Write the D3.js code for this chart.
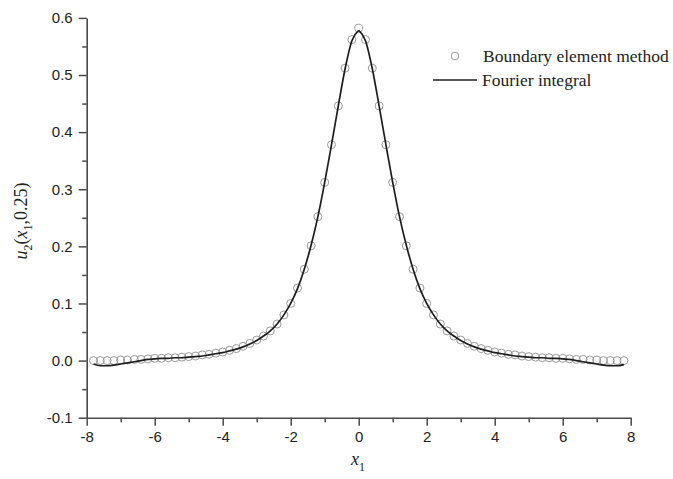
<!DOCTYPE html>
<html>
<head>
<meta charset="utf-8">
<script src="https://cdn.jsdelivr.net/npm/d3@7/dist/d3.min.js"></script>
<style>
  html, body { margin: 0; padding: 0; background: #fff; }
  svg { display: block; }
</style>
</head>
<body>
<svg id="chart" width="673" height="479"></svg>
<script>
// x1 positions of the samples (step 0.2 from -7.8 to 7.8)
const x1 = d3.range(-39, 40).map(i => i / 5);

// u2(x1, 0.25) from the boundary element method
const bemValues = [
  0.000, 0.000, 0.000, 0.000, 0.001, 0.001, 0.002, 0.002, 0.003, 0.004,
  0.004, 0.005, 0.005, 0.006, 0.007, 0.008, 0.010, 0.011, 0.013, 0.015,
  0.018, 0.021, 0.025, 0.030, 0.036, 0.043, 0.052, 0.064, 0.080, 0.100,
  0.127, 0.160, 0.201, 0.252, 0.312, 0.378, 0.446, 0.512, 0.562,
  0.582,
  0.562, 0.512, 0.446, 0.378, 0.312, 0.252, 0.201, 0.160, 0.127, 0.100,
  0.080, 0.064, 0.052, 0.043, 0.036, 0.030, 0.025, 0.021, 0.018, 0.015,
  0.013, 0.011, 0.010, 0.008, 0.007, 0.006, 0.005, 0.005, 0.004, 0.004,
  0.003, 0.002, 0.002, 0.001, 0.001, 0.000, 0.000, 0.000, 0.000
];

// u2(x1, 0.25) from the Fourier integral solution
const fourierValues = [
  -0.006, -0.009, -0.009, -0.008, -0.006, -0.004, -0.002, 0.000, 0.002, 0.003,
  0.004, 0.004, 0.005, 0.005, 0.006, 0.007, 0.008, 0.010, 0.012, 0.014,
  0.017, 0.020, 0.024, 0.029, 0.035, 0.043, 0.052, 0.064, 0.080, 0.100,
  0.126, 0.160, 0.202, 0.252, 0.312, 0.378, 0.446, 0.511, 0.560,
  0.578,
  0.560, 0.511, 0.446, 0.378, 0.312, 0.252, 0.202, 0.160, 0.126, 0.100,
  0.080, 0.064, 0.052, 0.043, 0.035, 0.029, 0.024, 0.020, 0.017, 0.014,
  0.012, 0.010, 0.008, 0.007, 0.006, 0.005, 0.005, 0.004, 0.004, 0.003,
  0.002, 0.000, -0.002, -0.004, -0.006, -0.008, -0.009, -0.009, -0.007
];

const xMajorTicks = [-8, -6, -4, -2, 0, 2, 4, 6, 8];
const xMinorTicks = [-7, -5, -3, -1, 1, 3, 5, 7];
const yMajorTicks = [-0.1, 0.0, 0.1, 0.2, 0.3, 0.4, 0.5, 0.6];
const yMinorTicks = [-0.05, 0.05, 0.15, 0.25, 0.35, 0.45, 0.55];

const legendLabels = ["Boundary element method", "Fourier integral"];

const svg = d3.select("#chart");
const plotLeft = 86.7, plotRight = 630.7, plotTop = 17.9, plotBottom = 417.7;

const x = d3.scaleLinear().domain([-8, 8]).range([plotLeft, plotRight]);
const y = d3.scaleLinear().domain([-0.1, 0.6]).range([plotBottom, plotTop]);

const axisColor = "#4a4a4a";
const tickFont = "'Liberation Sans', Arial, sans-serif";
const serif = "'Liberation Serif', 'Times New Roman', serif";
const hyphen = s => s.replace("\u2212", "-");

// minor ticks (no labels)
svg.append("g")
  .attr("transform", `translate(0,${plotBottom})`)
  .call(d3.axisBottom(x).tickValues(xMinorTicks).tickSize(4.5).tickFormat(""))
  .call(g => g.select(".domain").remove());
svg.append("g")
  .attr("transform", `translate(${plotLeft},0)`)
  .call(d3.axisLeft(y).tickValues(yMinorTicks).tickSize(4.5).tickFormat(""))
  .call(g => g.select(".domain").remove());

// major axes
svg.append("g")
  .attr("transform", `translate(0,${plotBottom})`)
  .call(d3.axisBottom(x).tickValues(xMajorTicks).tickSize(8).tickSizeOuter(0)
    .tickPadding(6).tickFormat(d => hyphen(d3.format("d")(d))));
svg.append("g")
  .attr("transform", `translate(${plotLeft},0)`)
  .call(d3.axisLeft(y).tickValues(yMajorTicks).tickSize(8).tickSizeOuter(0)
    .tickPadding(6).tickFormat(d => hyphen(d3.format(".1f")(d))));

svg.selectAll(".tick line").attr("stroke", axisColor).attr("stroke-width", 1.5);
svg.selectAll(".domain").attr("stroke", axisColor).attr("stroke-width", 1.6);
svg.selectAll(".tick text")
  .attr("fill", "#222")
  .style("font-family", tickFont)
  .style("font-size", "15px");

// boundary element samples
svg.append("g")
  .selectAll("circle")
  .data(x1.map((v, i) => [v, bemValues[i]]))
  .join("circle")
  .attr("cx", d => x(d[0]))
  .attr("cy", d => y(d[1]))
  .attr("r", 4)
  .attr("fill", "none")
  .attr("stroke", "#9a9a9a")
  .attr("stroke-width", 1);

// Fourier integral curve, drawn in two halves so the crest stays sharp
const pts = x1.map((v, i) => [v, fourierValues[i]]);
const line = d3.line().x(d => x(d[0])).y(d => y(d[1])).curve(d3.curveMonotoneX);
[pts.filter(d => d[0] <= 0), pts.filter(d => d[0] >= 0)].forEach(part => {
  svg.append("path")
    .attr("d", line(part))
    .attr("fill", "none")
    .attr("stroke", "#1e1e1e")
    .attr("stroke-width", 1.7)
    .attr("stroke-linejoin", "round");
});

// legend
svg.append("circle")
  .attr("cx", 455).attr("cy", 56).attr("r", 3.8)
  .attr("fill", "none").attr("stroke", "#9a9a9a").attr("stroke-width", 1);
svg.append("text")
  .attr("x", 483).attr("y", 62)
  .style("font-family", serif).style("font-size", "17.5px").attr("fill", "#222")
  .text(legendLabels[0]);
svg.append("line")
  .attr("x1", 433).attr("x2", 477).attr("y1", 80).attr("y2", 80)
  .attr("stroke", "#1e1e1e").attr("stroke-width", 1.7);
svg.append("text")
  .attr("x", 482).attr("y", 86)
  .style("font-family", serif).style("font-size", "17.5px").attr("fill", "#222")
  .text(legendLabels[1]);

// x-axis title: x1
const xt = svg.append("text")
  .attr("x", 358).attr("y", 465)
  .attr("text-anchor", "middle")
  .style("font-family", serif).style("font-size", "18px").attr("fill", "#222");
xt.append("tspan").style("font-style", "italic").text("x");
xt.append("tspan").attr("dy", 6).style("font-size", "12px").text("1");

// y-axis title: u2(x1,0.25)
const yt = svg.append("text")
  .attr("transform", "translate(27,221) rotate(-90)")
  .attr("text-anchor", "middle")
  .style("font-family", serif).style("font-size", "18px").attr("fill", "#222");
yt.append("tspan").style("font-style", "italic").text("u");
yt.append("tspan").attr("dy", 5).style("font-size", "12px").text("2");
yt.append("tspan").attr("dy", -5).text("(");
yt.append("tspan").style("font-style", "italic").text("x");
yt.append("tspan").attr("dy", 5).style("font-size", "12px").text("1");
yt.append("tspan").attr("dy", -5).text(",0.25)");
</script>
</body>
</html>
